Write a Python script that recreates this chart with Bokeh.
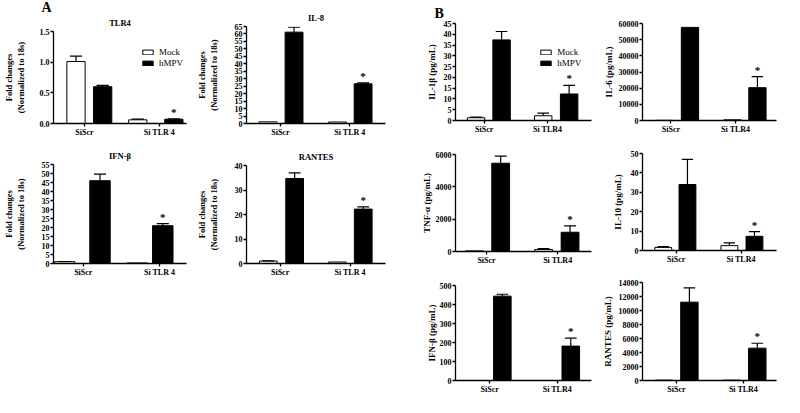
import numpy as np
from bokeh.plotting import figure
from bokeh.models import (Range1d, FixedTicker, Legend, LegendItem, Title,
                          PrintfTickFormatter)
from bokeh.layouts import row, column
from bokeh.embed import file_html
from bokeh.resources import INLINE
from bokeh.core.properties import value

# ------------------------------------------------------------------ data
groups_A = ["SiScr", "Si TLR 4"]
groups_B = ["SiScr", "Si TLR4"]
series_names = ["Mock", "hMPV"]
significant = [False, True]          # asterisk above the hMPV bar of each group

# Panel A : fold changes (normalized to 18s)
tlr4_mock = [1.01, 0.06]
tlr4_mock_sem = [0.09, 0.01]
tlr4_hmpv = [0.60, 0.07]
tlr4_hmpv_sem = [0.02, 0.005]

il8_mock = [1.1, 1.0]
il8_mock_sem = [0.0, 0.0]
il8_hmpv = [61.2, 26.6]
il8_hmpv_sem = [3.3, 0.6]

ifnb_a_mock = [1.0, 0.3]
ifnb_a_mock_sem = [0.1, 0.0]
ifnb_a_hmpv = [46.0, 21.0]
ifnb_a_hmpv_sem = [3.6, 1.1]

rantes_a_mock = [1.0, 0.6]
rantes_a_mock_sem = [0.1, 0.0]
rantes_a_hmpv = [34.7, 22.2]
rantes_a_hmpv_sem = [2.3, 0.9]

# Panel B : pg/mL
il1b_mock = [1.3, 2.2]
il1b_mock_sem = [0.3, 1.2]
il1b_hmpv = [37.4, 12.3]
il1b_hmpv_sem = [3.9, 4.0]

il6_mock = [100, 450]
il6_mock_sem = [0, 0]
il6_hmpv = [57600, 20300]
il6_hmpv_sem = [0, 6900]

tnfa_mock = [40, 120]
tnfa_mock_sem = [0, 60]
tnfa_hmpv = [5460, 1190]
tnfa_hmpv_sem = [440, 400]

il10_mock = [1.6, 2.5]
il10_mock_sem = [0.4, 1.4]
il10_hmpv = [34.0, 7.3]
il10_hmpv_sem = [13.0, 2.4]

ifnb_b_mock = [0, 0]
ifnb_b_mock_sem = [0, 0]
ifnb_b_hmpv = [444, 181]
ifnb_b_hmpv_sem = [10, 42]

rantes_b_mock = [50, 50]
rantes_b_mock_sem = [0, 0]
rantes_b_hmpv = [11190, 4620]
rantes_b_hmpv_sem = [2040, 700]

# ------------------------------------------------------------------ layout helpers
FONT = "Liberation Serif"
SX, SY = 0.99, 0.972


def X(r):
    return int(round((r - 3) * SX))


def Y(r):
    return int(round((r - 5) * SY))


def make_panel(cell, frame, bars, ticks, groups, mock, mock_sem, hmpv, hmpv_sem,
               ymax, ystep, bar_w=19.5, title=None, ylabel=None, ylabel_size="9px",
               ylabel_standoff=5, letter=None, legend_at=None):
    cx0, cy0, cx1, cy1 = cell
    fl, ft, fr, fb = frame
    p = figure(width=X(cx1) - X(cx0), height=Y(cy1) - Y(cy0),
               x_range=Range1d(0, fr - fl), y_range=Range1d(0, ymax),
               min_border_left=X(fl) - X(cx0), min_border_right=X(cx1) - X(fr),
               min_border_top=Y(ft) - Y(cy0), min_border_bottom=Y(cy1) - Y(fb),
               output_backend="svg", toolbar_location=None, title_location=None)
    p.outline_line_color = None
    p.xgrid.visible = False
    p.ygrid.visible = False
    p.background_fill_color = "white"
    p.border_fill_color = "white"

    xm = [bars[0], bars[2]]
    xh = [bars[1], bars[3]]
    rm = p.vbar(x=xm, top=mock, width=bar_w, fill_color="white",
                line_color="black", line_width=1)
    rh = p.vbar(x=xh, top=hmpv, width=bar_w, fill_color="black",
                line_color="black", line_width=1)
    cap = 6.5
    for xs, vals, sems in ((xm, mock, mock_sem), (xh, hmpv, hmpv_sem)):
        ex, ev, et = [], [], []
        for x, v, s in zip(xs, vals, sems):
            if s > 0:
                ex.append(x)
                ev.append(v)
                et.append(v + s)
        if ex:
            p.segment(x0=ex, y0=ev, x1=ex, y1=et, line_color="black", line_width=1.2)
            p.segment(x0=[x - cap for x in ex], y0=et, x1=[x + cap for x in ex], y1=et,
                      line_color="black", line_width=1.2)
    sx = [x for x, s in zip(xh, significant) if s]
    sy = [v + e for v, e, s in zip(hmpv, hmpv_sem, significant) if s]
    p.text(x=sx, y=sy, text=["*"] * len(sx), text_align="center",
           text_baseline="bottom", y_offset=-1, text_font=value(FONT),
           text_font_style="bold", text_font_size="11px", text_color="black")

    for ax in (p.xaxis[0], p.yaxis[0]):
        ax.axis_line_color = "black"
        ax.axis_line_width = 1.3
        ax.major_tick_line_color = "black"
        ax.major_tick_line_width = 1.3
        ax.major_tick_in = 0
        ax.major_tick_out = 3
        ax.minor_tick_line_color = None
        ax.major_label_text_font = FONT
        ax.major_label_text_font_style = "bold"
        ax.major_label_text_font_size = "8px"
        ax.major_label_text_color = "black"
        ax.major_label_standoff = 1
    p.xaxis.ticker = FixedTicker(ticks=list(ticks))
    p.xaxis.major_label_overrides = {t: g for t, g in zip(ticks, groups)}
    p.yaxis.ticker = FixedTicker(
        ticks=[float(v) for v in np.arange(0, ymax + ystep * 0.5, ystep)])
    if ystep < 1:
        p.yaxis.formatter = PrintfTickFormatter(format="%.1f")

    if ylabel:
        p.yaxis.axis_label = ylabel
        p.yaxis.axis_label_text_font = FONT
        p.yaxis.axis_label_text_font_style = "bold"
        p.yaxis.axis_label_text_font_size = ylabel_size
        p.yaxis.axis_label_text_color = "black"
        p.yaxis.axis_label_standoff = ylabel_standoff
    if title:
        p.add_layout(Title(text=title, align="center", text_font=FONT,
                           text_font_style="bold", text_font_size="8.5px",
                           text_color="black", standoff=8), "above")
    if letter:
        txt, off, so = letter
        p.add_layout(Title(text=txt, align="left", offset=off, text_font=FONT,
                           text_font_style="bold", text_font_size="14px",
                           text_color="black", standoff=so), "above")
    if legend_at:
        lx, ly = legend_at
        lg = Legend(items=[LegendItem(label=series_names[0], renderers=[rm]),
                           LegendItem(label=series_names[1], renderers=[rh])],
                    location=((lx - fl) * SX, (fb - ly) * SY), orientation="vertical",
                    padding=0, margin=0, spacing=0, glyph_width=13, glyph_height=6,
                    label_height=11, label_standoff=5, label_text_font=FONT,
                    label_text_font_size="9px", label_text_color="black",
                    border_line_color=None, background_fill_alpha=0)
        p.add_layout(lg)
    return p


FOLD = "Fold changes\n(Normalized to 18s)"

tlr4 = make_panel((3, 5, 198, 148), (49, 32, 191, 133), [24, 52.5, 90, 128.5], [33, 113],
                  groups_A, tlr4_mock, tlr4_mock_sem, tlr4_hmpv, tlr4_hmpv_sem, 1.5, 0.5,
                  title="TLR4", ylabel=FOLD, ylabel_size="8.5px", ylabel_standoff=11,
                  letter=("A", -12, -6.5), legend_at=(138, 77))
ifnb_a = make_panel((3, 148, 198, 300), (49, 174, 192, 276), [12, 50, 90, 117.5], [32, 114],
                    groups_A, ifnb_a_mock, ifnb_a_mock_sem, ifnb_a_hmpv, ifnb_a_hmpv_sem,
                    55, 5, bar_w=22, title="IFN-β", ylabel=FOLD, ylabel_size="8.5px",
                    ylabel_standoff=13)
il8 = make_panel((198, 5, 425, 148), (240, 32, 392, 132), [23.5, 52, 99.5, 127.5], [37, 113],
                 groups_A, il8_mock, il8_mock_sem, il8_hmpv, il8_hmpv_sem, 65, 5,
                 title="IL-8", ylabel=FOLD, ylabel_size="8.5px", ylabel_standoff=13)
rantes_a = make_panel((198, 148, 425, 300), (239, 175, 392, 276), [24, 53, 100, 128.5],
                      [37, 114], groups_A, rantes_a_mock, rantes_a_mock_sem, rantes_a_hmpv,
                      rantes_a_hmpv_sem, 40, 10, title="RANTES", ylabel=FOLD,
                      ylabel_size="8.5px", ylabel_standoff=13)

il1b = make_panel((425, 5, 608, 145), (451, 29, 603, 130), [23, 51.5, 98, 127], [32, 103],
                  groups_B, il1b_mock, il1b_mock_sem, il1b_hmpv, il1b_hmpv_sem, 45, 5,
                  ylabel="IL-1β (pg/mL)", ylabel_standoff=4, letter=("B", -21, 6),
                  legend_at=(536, 77))
tnfa = make_panel((425, 145, 608, 280), (456, 163, 605, 263), [21, 49.5, 96.5, 125.5],
                  [34, 112], groups_B, tnfa_mock, tnfa_mock_sem, tnfa_hmpv, tnfa_hmpv_sem,
                  6000, 2000, ylabel="TNF-α (pg/mL)", ylabel_standoff=1)
ifnb_b = make_panel((425, 280, 608, 412), (449, 298, 600, 398), [23, 52, 100, 128], [38, 113],
                    groups_B, ifnb_b_mock, ifnb_b_mock_sem, ifnb_b_hmpv, ifnb_b_hmpv_sem,
                    500, 100, ylabel="IFN-β (pg/mL)", ylabel_standoff=0)

il6 = make_panel((608, 5, 795, 145), (641, 29, 792, 129), [24.5, 53.5, 101.5, 129.5],
                 [32, 105], groups_B, il6_mock, il6_mock_sem, il6_hmpv, il6_hmpv_sem,
                 60000, 10000, ylabel="IL-6 (pg/mL)", ylabel_standoff=2)
il10 = make_panel((608, 145, 795, 280), (632, 162, 787, 262), [24, 52, 100.5, 129.5],
                  [39, 114], groups_B, il10_mock, il10_mock_sem, il10_hmpv, il10_hmpv_sem,
                  50, 10, ylabel="IL-10 (pg/mL)", ylabel_standoff=5)
rantes_b = make_panel((608, 280, 795, 412), (642, 295, 792, 396), [24, 52.5, 100, 128.5],
                      [38, 113], groups_B, rantes_b_mock, rantes_b_mock_sem, rantes_b_hmpv,
                      rantes_b_hmpv_sem, 14000, 2000, ylabel="RANTES (pg/mL)",
                      ylabel_standoff=3)

layout = row(column(tlr4, ifnb_a, spacing=0), column(il8, rantes_a, spacing=0),
             column(il1b, tnfa, ifnb_b, spacing=0), column(il6, il10, rantes_b, spacing=0),
             spacing=0)

open("out.html", "w").write(file_html(layout, INLINE))
